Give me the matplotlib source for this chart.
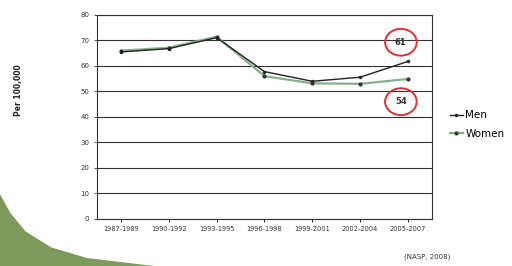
import matplotlib.pyplot as plt
from matplotlib.patches import Ellipse, Polygon

periods = ["1987-1989", "1990-1992", "1993-1995", "1996-1998",
           "1999-2001", "2002-2004", "2005-2007"]
men = [65.5, 66.8, 71.1, 57.8, 54.0, 55.6, 61.8]
women = [66.0, 67.2, 71.5, 56.0, 53.2, 53.0, 54.9]
callouts = [("61", 69.3), ("54", 46.0)]

fig = plt.figure(figsize=(5.12, 2.66), dpi=100, facecolor="white")

# decorative green swoosh in the lower-left corner
swoosh = Polygon([(0, 0), (0, 0.27), (0.02, 0.2), (0.05, 0.13), (0.1, 0.07),
                  (0.17, 0.03), (0.3, 0.0)], closed=True, transform=fig.transFigure,
                 facecolor="#7d9a5c", edgecolor="none", zorder=0)
fig.patches.append(swoosh)

ax = fig.add_axes([0.1895, 0.1767, 0.6542, 0.767])
x = range(len(periods))
ax.plot(x, women, color="#86b08c", linewidth=1.6, marker=".", markersize=4,
        markerfacecolor="#333333", markeredgecolor="#333333", label="Women", zorder=3)
ax.plot(x, men, color="#222222", linewidth=1.0, marker=".", markersize=3,
        label="Men", zorder=4)

ax.set_xlim(-0.5, len(periods) - 0.5)
ax.set_ylim(0, 80)
ax.set_yticks(range(0, 81, 10))
ax.set_xticks(x)
ax.set_xticklabels(periods, fontsize=4.8, color="#333333")
ax.tick_params(axis="y", labelsize=5, colors="#333333", length=2, width=0.6)
ax.tick_params(axis="x", length=2, width=0.6, pad=3)
ax.yaxis.grid(True, color="#333333", linewidth=0.8)
ax.set_axisbelow(True)
for s in ax.spines.values():
    s.set_linewidth(0.8)
    s.set_color("#333333")

fig.text(18 / 512, 1 - 90 / 266, "Per 100,000", rotation=90, fontsize=5.5,
         fontweight="bold", color="#222222", ha="center", va="center")

for txt, yv in callouts:
    ax.add_patch(Ellipse((5.85, yv), 0.66, 10.5, fill=False, edgecolor="#e03030",
                         linewidth=1.4, zorder=6))
    ax.text(5.85, yv, txt, ha="center", va="center", fontsize=6,
            fontweight="bold", color="#333333", zorder=7)

handles, labels = ax.get_legend_handles_labels()
fig.legend(handles[::-1], labels[::-1], loc="upper left",
           bbox_to_anchor=(0.86, 0.62), frameon=False, fontsize=7.5,
           handlelength=1.3, handletextpad=0.2, labelspacing=0.8)

fig.text(0.835, 0.03, "(NASP, 2008)", fontsize=5, ha="center", color="#333333")

fig.savefig("out.png", dpi=100)
